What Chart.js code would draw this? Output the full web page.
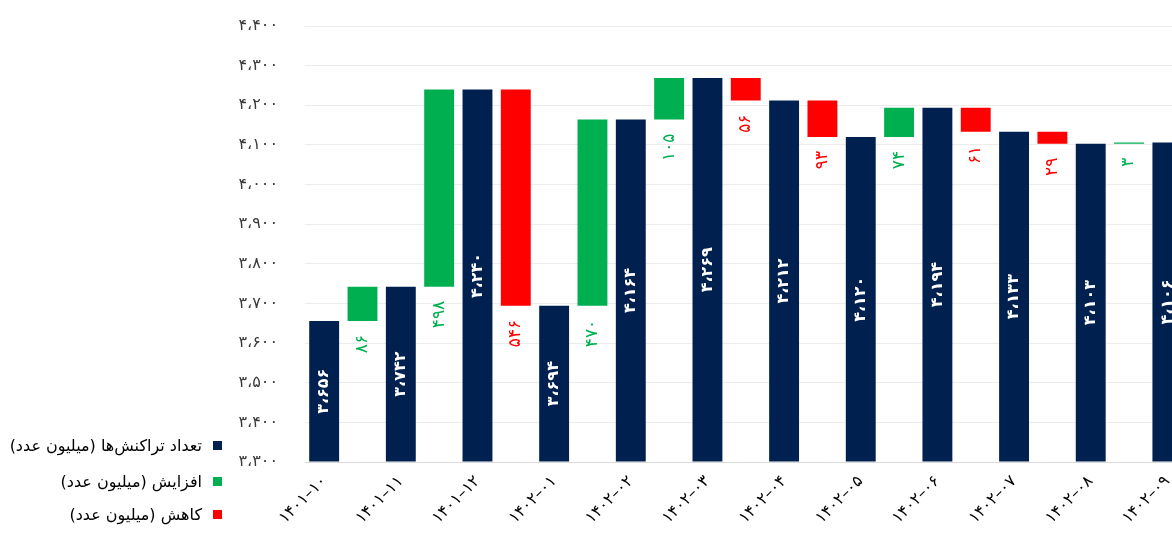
<!DOCTYPE html>
<html>
<head>
<meta charset="utf-8">
<script src="https://cdn.jsdelivr.net/npm/chart.js@4.4.1/dist/chart.umd.min.js"></script>
<style>
html,body{margin:0;padding:0;background:#fff;overflow:hidden;width:1172px;height:534px;}
#wrap{position:absolute;left:0;top:0;width:1191px;height:534px;}
#legend{position:absolute;left:0;top:0;width:224px;height:534px;font-family:"DejaVu Sans",sans-serif;pointer-events:none;}
.li{position:absolute;right:2px;direction:rtl;display:flex;align-items:center;white-space:nowrap;font-size:16px;color:#000;}
.sw{width:9px;height:9px;margin-left:11px;flex:none;}
</style>
</head>
<body>
<div id="wrap"><canvas id="c"></canvas></div>
<div id="legend"></div>
<script>
// ---- data ----
const months = ["۱۴۰۱–۱۰","۱۴۰۱–۱۱","۱۴۰۱–۱۲","۱۴۰۲–۰۱","۱۴۰۲–۰۲","۱۴۰۲–۰۳","۱۴۰۲–۰۴","۱۴۰۲–۰۵","۱۴۰۲–۰۶","۱۴۰۲–۰۷","۱۴۰۲–۰۸","۱۴۰۲–۰۹"];
const totals = [3656, 3742, 4240, 3694, 4164, 4269, 4212, 4120, 4194, 4133, 4103, 4106];
const changes = [86, 498, -546, 470, 105, -56, -93, 74, -61, -29, 3];
const yTicks = [3300, 3400, 3500, 3600, 3700, 3800, 3900, 4000, 4100, 4200, 4300, 4400];
const seriesNames = ["تعداد تراکنش‌ها (میلیون عدد)", "افزایش (میلیون عدد)", "کاهش (میلیون عدد)"];
const colors = ["#002050", "#00B050", "#FF0000"];

// ---- helpers ----
const faDigits = "۰۱۲۳۴۵۶۷۸۹";
function toFa(s){ return String(s).replace(/[0-9]/g, d => faDigits[+d]); }
function fmt(n){
  const a = Math.abs(Math.round(n));
  const s = a >= 1000 ? Math.floor(a/1000) + "،" + String(a%1000).padStart(3,"0") : String(a);
  return toFa(s);
}

// ---- build categories ----
const labels = [], totalData = [], incData = [], decData = [], labelText = [];
for (let i = 0; i < totals.length; i++) {
  labels.push(months[i]);
  totalData.push(totals[i]); incData.push(null); decData.push(null);
  labelText.push(fmt(totals[i]));
  if (i < changes.length) {
    labels.push("");
    totalData.push(null);
    const range = [totals[i], totals[i+1]];
    if (changes[i] >= 0) { incData.push(range); decData.push(null); }
    else { decData.push(range); incData.push(null); }
    labelText.push(fmt(changes[i]));
  }
}

// ---- legend ----
const leg = document.getElementById("legend");
const legY = [445, 481, 514];
seriesNames.forEach((n, i) => {
  const d = document.createElement("div");
  d.className = "li";
  d.style.top = (legY[i] - 11) + "px";
  d.style.height = "22px";
  d.innerHTML = '<span class="sw" style="background:' + colors[i] + '"></span><span>' + n + '</span>';
  leg.appendChild(d);
});

// ---- labels plugin ----
const wfLabels = {
  id: "wfLabels",
  afterDatasetsDraw(chart) {
    const ctx = chart.ctx;
    chart.data.datasets.forEach((ds, di) => {
      const meta = chart.getDatasetMeta(di);
      meta.data.forEach((bar, i) => {
        if (ds.data[i] == null) return;
        const txt = labelText[i];
        ctx.save();
        if (di === 0) {
          const cy = (bar.y + bar.base) / 2;
          ctx.translate(bar.x, cy);
          ctx.rotate(-Math.PI / 2);
          ctx.textAlign = "center";
          ctx.textBaseline = "middle";
          ctx.fillStyle = "#ffffff";
          ctx.font = 'bold 16px "DejaVu Sans"';
        } else {
          const bottom = Math.max(bar.y, bar.base);
          ctx.translate(bar.x, bottom + 14);
          ctx.rotate(-Math.PI / 2);
          ctx.textAlign = "right";
          ctx.textBaseline = "middle";
          ctx.fillStyle = colors[di];
          ctx.font = '17px "DejaVu Sans"';
        }
        ctx.fillText(txt, 0, 0);
        ctx.restore();
      });
    });
  }
};

new Chart(document.getElementById("c"), {
  type: "bar",
  data: {
    labels: labels,
    datasets: [
      { label: seriesNames[0], data: totalData, backgroundColor: colors[0], grouped: false, base: yTicks[0] },
      { label: seriesNames[1], data: incData, backgroundColor: colors[1], grouped: false },
      { label: seriesNames[2], data: decData, backgroundColor: colors[2], grouped: false }
    ]
  },
  options: {
    responsive: true,
    maintainAspectRatio: false,
    animation: false,
    layout: { padding: { top: 26, right: 2, left: 0, bottom: 0 } },
    datasets: { bar: { barPercentage: 0.78, categoryPercentage: 1.0 } },
    plugins: { legend: { display: false }, tooltip: { enabled: false } },
    scales: {
      x: {
        grid: { display: false, drawTicks: false },
        border: { color: "#d9d9d9" },
        ticks: {
          autoSkip: false, minRotation: 45, maxRotation: 45, padding: 10,
          color: "#000", font: { family: "DejaVu Sans", size: 16 }
        },
        afterFit(s) { s.height = 72; }
      },
      y: {
        min: yTicks[0], max: yTicks[yTicks.length - 1],
        afterBuildTicks(s) { s.ticks = yTicks.map(v => ({ value: v })); },
        grid: { color: "#ececec", drawTicks: true, tickLength: 27, tickColor: "rgba(0,0,0,0)" },
        border: { display: false },
        ticks: {
          padding: 0, color: "#3a3a3a",
          font: { family: "DejaVu Sans", size: 16 },
          callback: v => fmt(v)
        },
        afterFit(s) { s.width = 305; }
      }
    }
  },
  plugins: [wfLabels]
});
</script>
</body>
</html>
